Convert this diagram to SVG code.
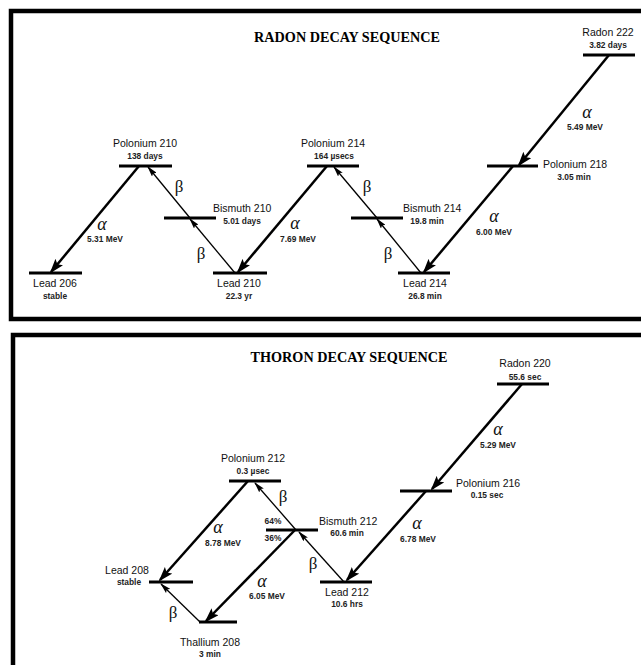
<svg xmlns="http://www.w3.org/2000/svg" width="641" height="665" viewBox="0 0 641 665">
<defs>
<style>
.frame{fill:none;stroke:#000;stroke-width:4.5}
.bar{stroke:#000;stroke-width:3}
.a{stroke:#000;stroke-width:2.5;fill:none;marker-end:url(#ha)}
.b{stroke:#000;stroke-width:1.3;fill:none;marker-end:url(#hb)}
.t1{font-family:"Liberation Sans",Arial,sans-serif;font-size:10.5px;fill:#111}
.t2{font-family:"Liberation Sans",Arial,sans-serif;font-size:8.4px;font-weight:bold;fill:#222}
.c{text-anchor:middle}
.al{font-family:"Liberation Serif","Times New Roman",serif;font-size:18px;font-style:italic;fill:#111;text-anchor:middle}
.be{font-family:"Liberation Serif","Times New Roman",serif;font-size:17px;fill:#111;text-anchor:middle}
.ti{font-family:"Liberation Serif","Times New Roman",serif;font-size:14.2px;font-weight:bold;fill:#000;text-anchor:middle}
</style>
<marker id="ha" viewBox="0 0 15 10" markerWidth="15" markerHeight="10" refX="13" refY="5" orient="auto" markerUnits="userSpaceOnUse"><path d="M0,0 L15,5 L0,10 L3,5 z" fill="#000"/></marker>
<marker id="hb" viewBox="0 0 11 6" markerWidth="11" markerHeight="6" refX="10" refY="3" orient="auto" markerUnits="userSpaceOnUse"><path d="M0,0 L11,3 L0,6 L2,3 z" fill="#000"/></marker>
</defs>
<rect width="641" height="665" fill="#fff"/>
<rect class="frame" x="11" y="11" width="640" height="308"/>
<rect class="frame" x="13" y="335" width="640" height="340"/>

<text class="ti" x="347" y="42">RADON DECAY SEQUENCE</text>
<text class="ti" x="349" y="362">THORON DECAY SEQUENCE</text>

<g id="connectors">
<line class="a" x1="139" y1="166" x2="51" y2="272"/>
<line class="b" x1="235" y1="273" x2="190" y2="219"/>
<line class="b" x1="190" y1="218" x2="148" y2="167"/>
<line class="a" x1="327" y1="166" x2="238" y2="272"/>
<line class="b" x1="421" y1="273" x2="377" y2="219"/>
<line class="b" x1="377" y1="218" x2="334" y2="167"/>
<line class="a" x1="609" y1="55" x2="519" y2="165"/>
<line class="a" x1="513" y1="166" x2="424" y2="272"/>

<line class="a" x1="522" y1="384" x2="432" y2="489"/>
<line class="a" x1="426" y1="491" x2="347" y2="580"/>
<line class="b" x1="344" y1="582" x2="299" y2="532"/>
<line class="b" x1="296" y1="530" x2="255" y2="483"/>
<line class="a" x1="295" y1="530" x2="206" y2="621"/>
<line class="a" x1="248" y1="481" x2="160" y2="580"/>
<line class="b" x1="200" y1="622" x2="161" y2="584"/>
</g>

<g id="labels">
<text class="al" x="102" y="230">α</text><text class="t2 c" x="105" y="242">5.31 MeV</text>
<text class="al" x="295" y="229">α</text><text class="t2 c" x="298" y="242">7.69 MeV</text>
<text class="al" x="587" y="118">α</text><text class="t2 c" x="585" y="130">5.49 MeV</text>
<text class="al" x="494" y="222">α</text><text class="t2 c" x="494" y="235">6.00 MeV</text>
<text class="be" x="179" y="192">β</text>
<text class="be" x="201" y="259">β</text>
<text class="be" x="367" y="192">β</text>
<text class="be" x="388" y="259">β</text>

<text class="al" x="498" y="435">α</text><text class="t2 c" x="498" y="448">5.29 MeV</text>
<text class="al" x="417" y="529">α</text><text class="t2 c" x="418" y="542">6.78 MeV</text>
<text class="al" x="218" y="533">α</text><text class="t2 c" x="223" y="546">8.78 MeV</text>
<text class="al" x="262" y="587">α</text><text class="t2 c" x="267" y="599">6.05 MeV</text>
<text class="be" x="313" y="569">β</text>
<text class="be" x="283" y="502">β</text>
<text class="be" x="173" y="618">β</text>
<text class="t2 c" x="273" y="524">64%</text>
<text class="t2 c" x="273" y="541">36%</text>
</g>

<g id="po210"><line class="bar" x1="119" y1="166" x2="172" y2="166"/><text class="t1 c" x="145" y="147">Polonium 210</text><text class="t2 c" x="145" y="159">138 days</text></g>
<g id="bi210"><line class="bar" x1="164" y1="218" x2="216" y2="218"/><text class="t1" x="213" y="212">Bismuth 210</text><text class="t2 c" x="242" y="224">5.01 days</text></g>
<g id="pb206"><line class="bar" x1="29" y1="273" x2="82" y2="273"/><text class="t1 c" x="55" y="287">Lead 206</text><text class="t2 c" x="55" y="299">stable</text></g>
<g id="pb210"><line class="bar" x1="213" y1="273" x2="267" y2="273"/><text class="t1 c" x="239" y="287">Lead 210</text><text class="t2 c" x="239" y="299">22.3 yr</text></g>
<g id="po214"><line class="bar" x1="307" y1="166" x2="359" y2="166"/><text class="t1 c" x="333" y="147">Polonium 214</text><text class="t2 c" x="334" y="159">164 µsecs</text></g>
<g id="bi214"><line class="bar" x1="351" y1="218" x2="403" y2="218"/><text class="t1" x="403" y="212">Bismuth 214</text><text class="t2 c" x="427" y="224">19.8 min</text></g>
<g id="pb214"><line class="bar" x1="398" y1="273" x2="450" y2="273"/><text class="t1 c" x="425" y="287">Lead 214</text><text class="t2 c" x="425" y="299">26.8 min</text></g>
<g id="po218"><line class="bar" x1="487" y1="166" x2="538" y2="166"/><text class="t1" x="543" y="168">Polonium 218</text><text class="t2 c" x="574" y="180">3.05 min</text></g>
<g id="rn222"><line class="bar" x1="583" y1="55" x2="635" y2="55"/><text class="t1 c" x="608" y="36">Radon 222</text><text class="t2 c" x="608" y="48">3.82 days</text></g>

<g id="rn220"><line class="bar" x1="497" y1="384" x2="549" y2="384"/><text class="t1 c" x="525" y="367">Radon 220</text><text class="t2 c" x="525" y="380">55.6 sec</text></g>
<g id="po216"><line class="bar" x1="400" y1="491" x2="452" y2="491"/><text class="t1" x="456" y="487">Polonium 216</text><text class="t2 c" x="487" y="498">0.15 sec</text></g>
<g id="pb212"><line class="bar" x1="320" y1="582" x2="372" y2="582"/><text class="t1 c" x="347" y="596">Lead 212</text><text class="t2 c" x="347" y="607">10.6 hrs</text></g>
<g id="bi212"><line class="bar" x1="266" y1="530" x2="318" y2="530"/><text class="t1" x="319" y="525">Bismuth 212</text><text class="t2 c" x="347" y="536">60.6 min</text></g>
<g id="po212"><line class="bar" x1="229" y1="481" x2="281" y2="481"/><text class="t1 c" x="253" y="462">Polonium 212</text><text class="t2 c" x="253" y="474">0.3 µsec</text></g>
<g id="pb208"><line class="bar" x1="149" y1="582" x2="193" y2="582"/><text class="t1 c" x="127" y="574">Lead 208</text><text class="t2 c" x="129" y="585">stable</text></g>
<g id="tl208"><line class="bar" x1="199" y1="622" x2="237" y2="622"/><text class="t1 c" x="210" y="646">Thallium 208</text><text class="t2 c" x="210" y="657">3 min</text></g>
</svg>
